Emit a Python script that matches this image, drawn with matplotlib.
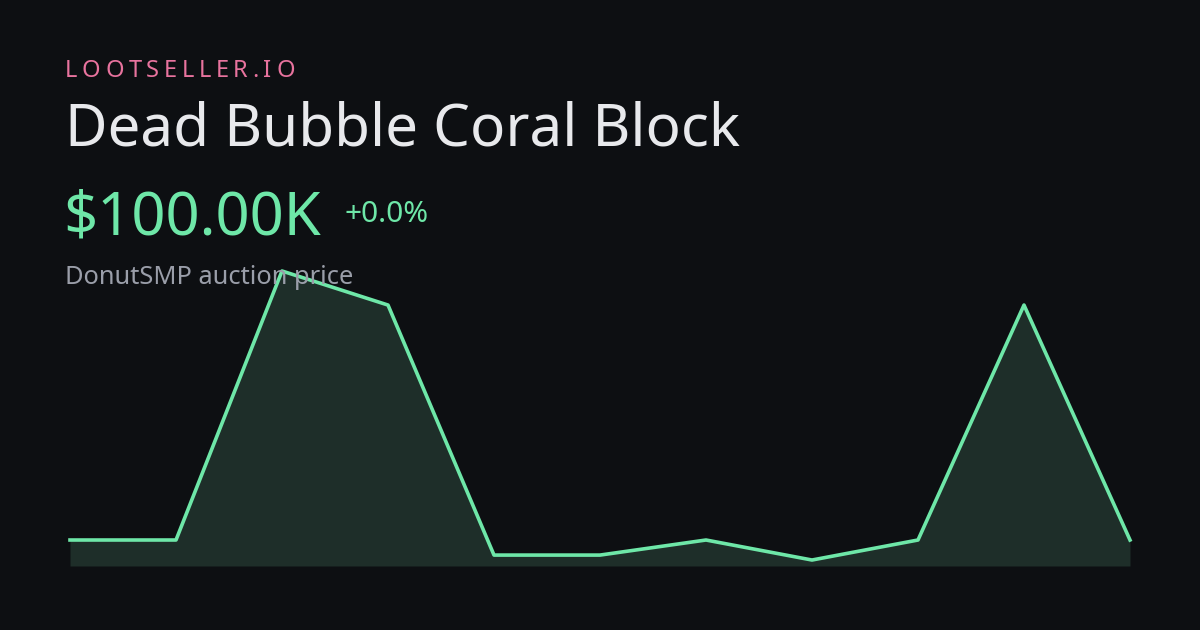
import matplotlib
matplotlib.use("Agg")
import matplotlib.pyplot as plt

plt.rcParams['font.family'] = ['Noto Sans', 'DejaVu Sans']

# price history (thousands)
prices = [100, 100, 1135, 1004, 42, 42, 100, 23, 100, 1004, 100]
days = list(range(len(prices)))

bg = '#0d0f12'
green = '#6ee7a8'

fig = plt.figure(figsize=(12, 6.3), dpi=100, facecolor=bg)
W, H = 1200, 630

ax = fig.add_axes([70 / W, 1 - 566 / H, 1060 / W, 295 / H])
ax.set_facecolor(bg)
ax.patch.set_alpha(0)
ax.fill_between(days, prices, 0, color='#1e2e29', lw=0)
ax.plot(days, prices, color=green, lw=2.6, clip_on=False)
ax.set_xlim(0, len(prices) - 1)
ax.set_ylim(0, max(prices))
ax.axis('off')

# brand label with wide letter spacing
renderer = fig.canvas.get_renderer()
x = 65
for ch in "LOOTSELLER.IO":
    t = fig.text(x / W, 1 - 77 / H, ch, color='#e8739e', fontsize=17, va='baseline')
    w = t.get_window_extent(renderer).width
    x += w + 4.6

fig.text(65 / W, 1 - 145 / H, "Dead Bubble Coral Block", color='#e8e9ec', fontsize=42, va='baseline')
fig.text(63 / W, 1 - 234 / H, "$100.00K", color=green, fontsize=43, va='baseline')
fig.text(345 / W, 1 - 222 / H, "+0.0%", color=green, fontsize=21.5, va='baseline')
fig.text(65 / W, 1 - 284 / H, "DonutSMP auction price", color='#9a9ea9', fontsize=18.3, va='baseline')

fig.savefig('out.png', facecolor=bg)
